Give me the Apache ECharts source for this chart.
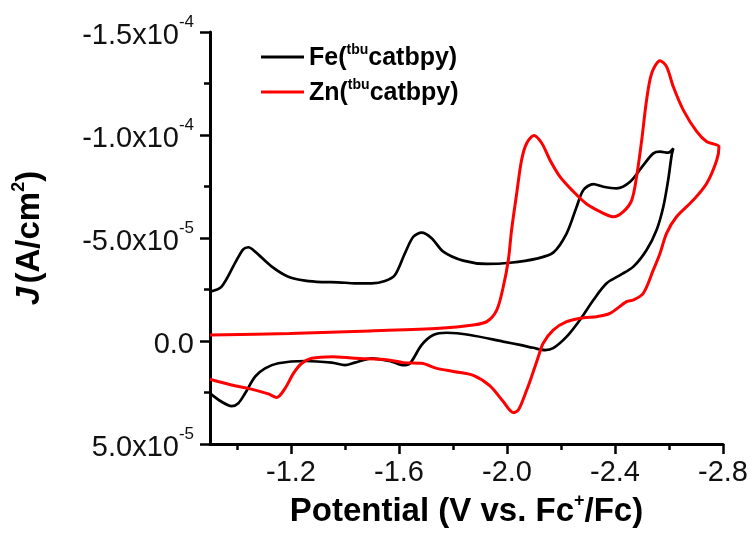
<!DOCTYPE html>
<html>
<head>
<meta charset="utf-8">
<script src="https://cdn.jsdelivr.net/npm/echarts@6/dist/echarts.min.js"></script>
<style>html,body{margin:0;padding:0;background:#fff;}#c{width:755px;height:548px;}</style>
</head>
<body>
<div id="c"></div>
<script>
// Potential (V vs. Fc+/Fc) and current density J in units of 1e-5 A/cm^2
const feV = [-0.900,-0.943,-0.993,-1.023,-1.042,-1.067,-1.129,-1.190,-1.252,-1.314,
  -1.375,-1.437,-1.499,-1.548,-1.585,-1.622,-1.653,-1.684,-1.721,-1.764,
  -1.838,-1.925,-2.011,-2.110,-2.171,-2.221,-2.258,-2.283,-2.320,-2.357,
  -2.406,-2.456,-2.505,-2.542,-2.567,-2.597,-2.616,
  -2.610,-2.597,-2.579,-2.554,-2.517,-2.468,-2.419,-2.369,-2.320,-2.270,
  -2.221,-2.171,-2.141,-2.097,-2.048,-1.986,-1.863,-1.777,-1.727,-1.684,
  -1.641,-1.616,-1.573,-1.499,-1.437,-1.400,-1.351,-1.252,-1.153,-1.104,
  -1.067,-1.030,-1.005,-0.980,-0.943,-0.900];
const feJ = [-2.39,-2.64,-3.79,-4.45,-4.55,-4.34,-3.61,-3.12,-2.93,-2.86,
  -2.85,-2.80,-2.80,-2.91,-3.20,-4.26,-5.06,-5.26,-4.99,-4.34,
  -3.90,-3.74,-3.80,-4.00,-4.29,-5.23,-6.52,-7.33,-7.62,-7.49,
  -7.41,-7.73,-8.54,-9.11,-9.19,-9.14,-9.35,
  -9.03,-7.82,-6.52,-5.39,-4.42,-3.61,-3.20,-2.80,-1.99,-1.02,
  -0.21,0.35,0.44,0.33,0.19,0.03,-0.29,-0.40,-0.29,0.19,
  1.08,1.17,1.00,0.84,1.05,1.17,1.05,0.97,1.08,1.33,
  1.73,2.54,3.02,3.16,2.95,2.54];
const znV = [-0.900,-1.196,-1.493,-1.752,-1.875,-1.925,-1.962,-1.986,-2.005,-2.017,
  -2.036,-2.054,-2.073,-2.100,-2.129,-2.159,-2.196,-2.246,-2.295,-2.357,
  -2.394,-2.431,-2.462,-2.480,-2.499,-2.517,-2.536,-2.567,-2.591,-2.616,
  -2.653,-2.703,-2.740,-2.785,
  -2.777,-2.740,-2.690,-2.628,-2.591,-2.567,-2.542,-2.505,-2.468,-2.443,
  -2.381,-2.332,-2.283,-2.221,-2.171,-2.134,-2.116,-2.091,-2.073,-2.042,
  -2.023,-1.986,-1.937,-1.875,-1.807,-1.740,-1.684,-1.616,-1.560,-1.437,
  -1.351,-1.277,-1.240,-1.209,-1.178,-1.147,-1.116,-1.042,-0.980,-0.900];
const znJ = [-0.29,-0.36,-0.49,-0.62,-0.78,-0.94,-1.50,-2.62,-3.93,-5.39,
  -7.17,-8.79,-9.60,-9.98,-9.60,-8.79,-7.98,-7.25,-6.65,-6.20,
  -6.03,-6.28,-6.84,-7.98,-9.76,-11.70,-13.00,-13.61,-13.32,-12.34,
  -11.21,-10.16,-9.67,-9.43,
  -8.79,-7.66,-6.84,-6.03,-5.23,-4.26,-3.45,-2.32,-1.99,-1.91,
  -1.34,-1.18,-1.13,-0.94,-0.53,0.11,0.76,1.73,2.38,3.35,
  3.47,2.94,2.18,1.67,1.49,1.33,1.08,1.05,0.92,0.84,
  0.76,0.84,1.08,1.57,2.30,2.74,2.57,2.30,2.14,1.86];

const seriesNames = ['Fe(tbucatbpy)', 'Zn(tbucatbpy)'];
const legendMetal = ['Fe', 'Zn'];
const legendSup = 'tbu';
const legendRest = 'catbpy)';

const xTickValues = [-2.8, -2.4, -2.0, -1.6, -1.2];
const xTickLabels = ['-2.8', '-2.4', '-2.0', '-1.6', '-1.2'];
const yTickValues = [-15, -10, -5, 0, 5];
const yTickMant = ['-1.5x10', '-1.0x10', '-5.0x10', '0.0', '5.0x10'];
const yTickExp = ['-4', '-4', '-5', '', '-5'];

const FONT = '"Liberation Sans", Arial, sans-serif';
const zip = (a, b) => a.map((v, i) => [v, b[i]]);

const chart = echarts.init(document.getElementById('c'), null, {renderer: 'canvas'});
chart.setOption({
  animation: false,
  backgroundColor: '#ffffff',
  grid: {left: 210, right: 32, top: 32, bottom: 104, containLabel: false},
  legend: {
    orient: 'vertical',
    left: 261,
    top: 43,
    padding: 0,
    icon: 'rect',
    itemWidth: 43,
    itemHeight: 3,
    itemGap: 7,
    selectedMode: false,
    data: seriesNames,
    formatter: function (name) {
      const i = seriesNames.indexOf(name);
      return '{b|' + legendMetal[i] + '(}{s|' + legendSup + '}{b|' + legendRest + '}';
    },
    textStyle: {
      padding: [0, 0, 0, 0],
      rich: {
        b: {fontFamily: FONT, fontWeight: 'bold', fontSize: 25, color: '#000', lineHeight: 28, verticalAlign: 'bottom'},
        s: {fontFamily: FONT, fontWeight: 'bold', fontSize: 14, color: '#000', lineHeight: 28, verticalAlign: 'top'}
      }
    }
  },
  xAxis: {
    type: 'value',
    inverse: true,
    min: -2.8,
    max: -0.9,
    interval: 0.4,
    name: '{t|Potential (V vs. Fc}{s|+}{t|/Fc)}',
    nameLocation: 'middle',
    nameGap: 48,
    nameTextStyle: {
      rich: {
        t: {fontFamily: FONT, fontWeight: 'bold', fontSize: 33, color: '#000', lineHeight: 36, verticalAlign: 'bottom'},
        s: {fontFamily: FONT, fontWeight: 'bold', fontSize: 18, color: '#000', lineHeight: 36, verticalAlign: 'top'}
      }
    },
    axisLine: {onZero: false, lineStyle: {color: '#000', width: 3}},
    axisTick: {show: true, inside: false, length: 10, lineStyle: {color: '#000', width: 2.5}, customValues: xTickValues},
    minorTick: {show: true, splitNumber: 2, length: 6, lineStyle: {color: '#000', width: 2.5}},
    splitLine: {show: false},
    minorSplitLine: {show: false},
    axisLabel: {
      customValues: xTickValues,
      margin: 14,
      fontFamily: FONT,
      fontSize: 29,
      color: '#111',
      formatter: function (v) {
        const i = xTickValues.findIndex(t => Math.abs(t - v) < 1e-6);
        return i >= 0 ? xTickLabels[i] : '';
      }
    }
  },
  yAxis: {
    type: 'value',
    inverse: true,
    min: -15,
    max: 5,
    interval: 5,
    name: '{j|J} {t|(A/cm}{s|2}{t|)}',
    nameLocation: 'middle',
    nameRotate: 90,
    nameGap: 164,
    nameTextStyle: {
      rich: {
        j: {fontFamily: FONT, fontWeight: 'bold', fontStyle: 'italic', fontSize: 33, color: '#000', lineHeight: 36, verticalAlign: 'bottom'},
        t: {fontFamily: FONT, fontWeight: 'bold', fontSize: 33, color: '#000', lineHeight: 36, verticalAlign: 'bottom'},
        s: {fontFamily: FONT, fontWeight: 'bold', fontSize: 18, color: '#000', lineHeight: 36, verticalAlign: 'top'}
      }
    },
    axisLine: {onZero: false, lineStyle: {color: '#000', width: 3}},
    axisTick: {show: true, inside: false, length: 10, lineStyle: {color: '#000', width: 2.5}},
    minorTick: {show: true, splitNumber: 2, length: 6, lineStyle: {color: '#000', width: 2.5}},
    splitLine: {show: false},
    minorSplitLine: {show: false},
    axisLabel: {
      margin: 16,
      formatter: function (v) {
        const i = yTickValues.findIndex(t => Math.abs(t - v) < 1e-9);
        if (i < 0) return '';
        return yTickExp[i] ? '{m|' + yTickMant[i] + '}{e|' + yTickExp[i] + '}' : '{m|' + yTickMant[i] + '}';
      },
      rich: {
        m: {fontFamily: FONT, fontSize: 29, color: '#111', lineHeight: 36, verticalAlign: 'bottom'},
        e: {fontFamily: FONT, fontSize: 17, color: '#111', lineHeight: 36, verticalAlign: 'top'}
      }
    }
  },
  series: [
    {
      name: seriesNames[0],
      type: 'line',
      data: zip(feV, feJ),
      showSymbol: false,
      symbol: 'none',
      smooth: 0.3,
      clip: true,
      lineStyle: {color: '#000000', width: 2.7},
      itemStyle: {color: '#000000'}
    },
    {
      name: seriesNames[1],
      type: 'line',
      data: zip(znV, znJ),
      showSymbol: false,
      symbol: 'none',
      smooth: 0.3,
      clip: true,
      lineStyle: {color: '#ff0000', width: 3},
      itemStyle: {color: '#ff0000'}
    }
  ]
});
</script>
</body>
</html>
